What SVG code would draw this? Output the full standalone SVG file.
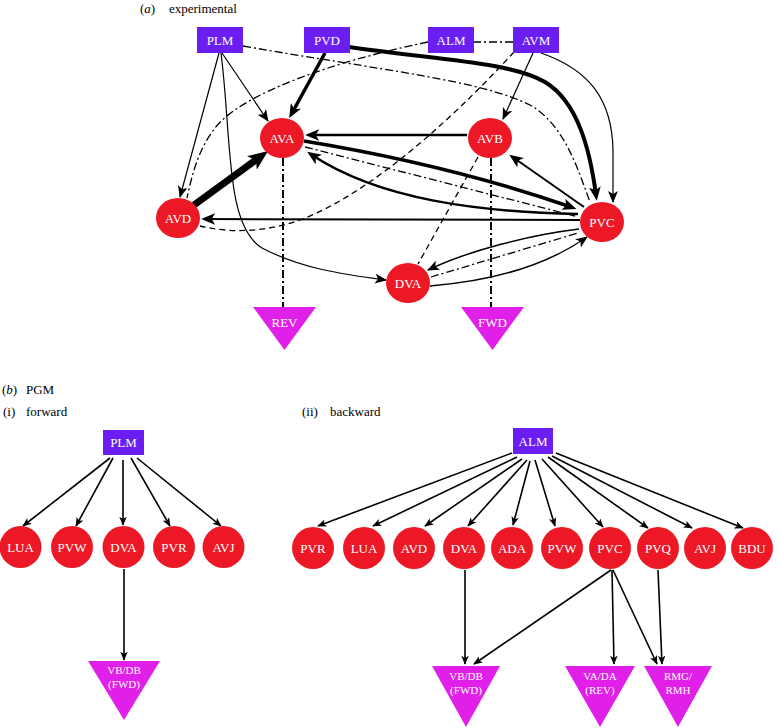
<svg xmlns="http://www.w3.org/2000/svg" width="779" height="728" viewBox="0 0 779 728">
<style>
.box{fill:#6a1ef2}
.cir{fill:#ec1826}
.tri{fill:#e020e8}
.lbl{font-family:"Liberation Serif","Times New Roman",serif;font-size:13px;fill:#fff;text-anchor:middle}
.tl{font-family:"Liberation Serif","Times New Roman",serif;font-size:11px;fill:#fff;text-anchor:middle}
.cap{font-family:"Liberation Serif","Times New Roman",serif;font-size:13px;fill:#000}
.e{fill:none;stroke:#000;stroke-width:1.2}
.dd{fill:none;stroke:#000;stroke-width:1.3;stroke-dasharray:8 3 2 3}
.ds{fill:none;stroke:#000;stroke-width:1.3;stroke-dasharray:6 4}
.eb{fill:none;stroke:#000;stroke-width:1.6}
</style>
<defs>
<marker id="ah" viewBox="0 0 12 10" markerWidth="12" markerHeight="10" refX="11" refY="5" orient="auto" markerUnits="userSpaceOnUse"><path d="M0,0 L12,5 L0,10 L3,5 z" fill="#000"/></marker>
<marker id="ahm" viewBox="0 0 12 10" markerWidth="14" markerHeight="11.7" refX="7" refY="5" orient="auto" markerUnits="userSpaceOnUse"><path d="M0,0 L12,5 L0,10 L3,5 z" fill="#000"/></marker>
<marker id="ahb" viewBox="0 0 12 10" markerWidth="20" markerHeight="16.7" refX="6" refY="5" orient="auto" markerUnits="userSpaceOnUse"><path d="M0,0 L12,5 L0,10 L3,5 z" fill="#000"/></marker>
<marker id="ahs" viewBox="0 0 12 10" markerWidth="9" markerHeight="7.5" refX="11" refY="5" orient="auto" markerUnits="userSpaceOnUse"><path d="M0,0 L12,5 L0,10 L3,5 z" fill="#000"/></marker>
</defs>

<g id="captions">
<text class="cap" x="140" y="13">(<tspan font-style="italic">a</tspan>)</text>
<text class="cap" x="169" y="13">experimental</text>
<text class="cap" x="2" y="394">(<tspan font-style="italic">b</tspan>)</text>
<text class="cap" x="26" y="394">PGM</text>
<text class="cap" x="3" y="416">(i)</text>
<text class="cap" x="26" y="416">forward</text>
<text class="cap" x="302" y="416">(ii)</text>
<text class="cap" x="330" y="416">backward</text>
</g>

<g id="connectors-a">
<path class="dd" d="M243,46 C380,70 480,80 530,105 C565,125 578,170 590,202"/>
<path class="dd" d="M428,42 C330,62 240,95 215,128 C198,150 192,175 187,198"/>
<path class="dd" d="M473,42 L513,42"/>
<path class="ds" d="M514,52 C470,100 380,190 300,220 C260,234 225,232 200,226"/>
<path class="ds" d="M478,157 L418,264"/>
<path class="dd" d="M305,147 L575,216"/>
<path class="dd" d="M431,277 L578,233"/>
<path class="dd" style="stroke-width:2" d="M283,158 L283,307"/>
<path class="dd" style="stroke-width:2" d="M491,158 L491,307"/>
<path class="e" d="M222,53 L268,121" marker-end="url(#ah)"/>
<path class="e" d="M219,53 L180,197" marker-end="url(#ah)"/>
<path class="e" d="M221,53 C232,140 225,225 262,248 C300,268 340,274 386,280" marker-end="url(#ah)"/>
<path class="e" d="M533,53 L503,119" marker-end="url(#ah)"/>
<path class="e" d="M541,53 C590,70 612,100 613,150 L613,202" marker-end="url(#ah)"/>
<path class="e" style="stroke-width:3.5" d="M325,53 L292,113" marker-end="url(#ahm)"/>
<path class="e" style="stroke-width:4" d="M349,47 C440,60 510,62 545,82 C578,102 590,150 596,195" marker-end="url(#ahm)"/>
<path class="e" style="stroke-width:2.5" d="M467,135 L311,135" marker-end="url(#ahm)"/>
<path class="e" style="stroke-width:3.5" d="M304,141 Q450,165 571,207" marker-end="url(#ahm)"/>
<path class="e" style="stroke-width:2.5" d="M578,214 C480,212 380,200 312,155" marker-end="url(#ahm)"/>
<path class="e" style="stroke-width:2" d="M584,207 L514,158" marker-end="url(#ahm)"/>
<path class="e" style="stroke-width:2" d="M580,220 L207,219" marker-end="url(#ahm)"/>
<path class="e" style="stroke-width:7" d="M194,205 L260,157" marker-end="url(#ahb)"/>
<path class="e" style="stroke-width:1.5" d="M579,229 C530,235 470,250 428,270" marker-end="url(#ah)"/>
<path class="e" style="stroke-width:1.5" d="M430,286 C480,282 540,270 587,237" marker-end="url(#ah)"/>
</g>

<g id="a-PLM"><rect class="box" x="197" y="27" width="46" height="26"/><text class="lbl" x="220" y="45">PLM</text></g>
<g id="a-PVD"><rect class="box" x="304" y="27" width="46" height="26"/><text class="lbl" x="327" y="45">PVD</text></g>
<g id="a-ALM"><rect class="box" x="428" y="27" width="46" height="26"/><text class="lbl" x="451" y="45">ALM</text></g>
<g id="a-AVM"><rect class="box" x="513" y="27" width="46" height="26"/><text class="lbl" x="536" y="45">AVM</text></g>
<g id="a-AVA"><ellipse class="cir" cx="282" cy="138" rx="22" ry="20"/><text class="lbl" x="282" y="143">AVA</text></g>
<g id="a-AVB"><ellipse class="cir" cx="490" cy="138" rx="22" ry="20"/><text class="lbl" x="490" y="143">AVB</text></g>
<g id="a-AVD"><ellipse class="cir" cx="178" cy="218" rx="22" ry="20"/><text class="lbl" x="178" y="223">AVD</text></g>
<g id="a-PVC"><ellipse class="cir" cx="602" cy="222" rx="22" ry="20"/><text class="lbl" x="602" y="227">PVC</text></g>
<g id="a-DVA"><ellipse class="cir" cx="408" cy="283" rx="22" ry="20"/><text class="lbl" x="408" y="288">DVA</text></g>
<g id="a-REV"><polygon class="tri" points="253,307 316,307 284.5,350"/><text class="lbl" x="284.5" y="327">REV</text></g>
<g id="a-FWD"><polygon class="tri" points="461,307 524,307 492.5,350"/><text class="lbl" x="492.5" y="327">FWD</text></g>

<g id="connectors-b">
<path class="eb" d="M110,458 L23,526" marker-end="url(#ahs)"/>
<path class="eb" d="M113,458 L76,526" marker-end="url(#ahs)"/>
<path class="eb" d="M123,460 L123,525" marker-end="url(#ahs)"/>
<path class="eb" d="M131,458 L170,526" marker-end="url(#ahs)"/>
<path class="eb" d="M137,458 L221,526" marker-end="url(#ahs)"/>
<path class="eb" d="M124,569 L124,660" marker-end="url(#ahs)"/>
<path class="eb" d="M512,453 L318,526" marker-end="url(#ahs)"/>
<path class="eb" d="M517,457 L373,526" marker-end="url(#ahs)"/>
<path class="eb" d="M522,459 L425,526" marker-end="url(#ahs)"/>
<path class="eb" d="M527,460 L468,526" marker-end="url(#ahs)"/>
<path class="eb" d="M530,461 L513,525" marker-end="url(#ahs)"/>
<path class="eb" d="M535,460 L555,526" marker-end="url(#ahs)"/>
<path class="eb" d="M542,459 L603,527" marker-end="url(#ahs)"/>
<path class="eb" d="M548,457 L648,528" marker-end="url(#ahs)"/>
<path class="eb" d="M552,456 L692,528" marker-end="url(#ahs)"/>
<path class="eb" d="M556,453 L743,528" marker-end="url(#ahs)"/>
<path class="eb" d="M465,570 L465,664" marker-end="url(#ahs)"/>
<path class="eb" d="M611,570 L474,664" marker-end="url(#ahs)"/>
<path class="eb" d="M612,570 L614,664" marker-end="url(#ahs)"/>
<path class="eb" d="M613,570 L657,664" marker-end="url(#ahs)"/>
<path class="eb" d="M658,570 L662,664" marker-end="url(#ahs)"/>
</g>

<g id="b1-PLM"><rect class="box" x="103" y="430" width="41" height="25"/><text class="lbl" x="123.5" y="447">PLM</text></g>
<g id="b1-LUA"><circle class="cir" cx="20.5" cy="547" r="21"/><text class="lbl" x="20.5" y="552">LUA</text></g>
<g id="b1-PVW"><circle class="cir" cx="72" cy="547" r="21"/><text class="lbl" x="72" y="552">PVW</text></g>
<g id="b1-DVA"><circle class="cir" cx="123.5" cy="547" r="21"/><text class="lbl" x="123.5" y="552">DVA</text></g>
<g id="b1-PVR"><circle class="cir" cx="174" cy="547" r="21"/><text class="lbl" x="174" y="552">PVR</text></g>
<g id="b1-AVJ"><circle class="cir" cx="223.5" cy="547" r="21"/><text class="lbl" x="223.5" y="552">AVJ</text></g>
<g id="b1-VBDB"><polygon class="tri" points="88,661 160,661 124,720"/><text class="tl" x="124" y="674">VB/DB</text><text class="tl" x="124" y="688">(FWD)</text></g>

<g id="b2-ALM"><rect class="box" x="513" y="428" width="40" height="26"/><text class="lbl" x="533" y="446">ALM</text></g>
<g id="b2-PVR"><circle class="cir" cx="313" cy="548" r="21"/><text class="lbl" x="313" y="553">PVR</text></g>
<g id="b2-LUA"><circle class="cir" cx="364" cy="548" r="21"/><text class="lbl" x="364" y="553">LUA</text></g>
<g id="b2-AVD"><circle class="cir" cx="414" cy="548" r="21"/><text class="lbl" x="414" y="553">AVD</text></g>
<g id="b2-DVA"><circle class="cir" cx="464" cy="548" r="21"/><text class="lbl" x="464" y="553">DVA</text></g>
<g id="b2-ADA"><circle class="cir" cx="512" cy="548" r="21"/><text class="lbl" x="512" y="553">ADA</text></g>
<g id="b2-PVW"><circle class="cir" cx="562" cy="548" r="21"/><text class="lbl" x="562" y="553">PVW</text></g>
<g id="b2-PVC"><circle class="cir" cx="610" cy="548" r="21"/><text class="lbl" x="610" y="553">PVC</text></g>
<g id="b2-PVQ"><circle class="cir" cx="658" cy="548" r="21"/><text class="lbl" x="658" y="553">PVQ</text></g>
<g id="b2-AVJ"><circle class="cir" cx="705" cy="548" r="21"/><text class="lbl" x="705" y="553">AVJ</text></g>
<g id="b2-BDU"><circle class="cir" cx="752" cy="548" r="21"/><text class="lbl" x="752" y="553">BDU</text></g>
<g id="b2-VBDB"><polygon class="tri" points="432,666 500,666 466,727"/><text class="tl" x="466" y="680">VB/DB</text><text class="tl" x="466" y="694">(FWD)</text></g>
<g id="b2-VADA"><polygon class="tri" points="565,666 635,666 600,727"/><text class="tl" x="600" y="680">VA/DA</text><text class="tl" x="600" y="694">(REV)</text></g>
<g id="b2-RMG"><polygon class="tri" points="644,666 712,666 678,727"/><text class="tl" x="678" y="680">RMG/</text><text class="tl" x="678" y="694">RMH</text></g>
</svg>
